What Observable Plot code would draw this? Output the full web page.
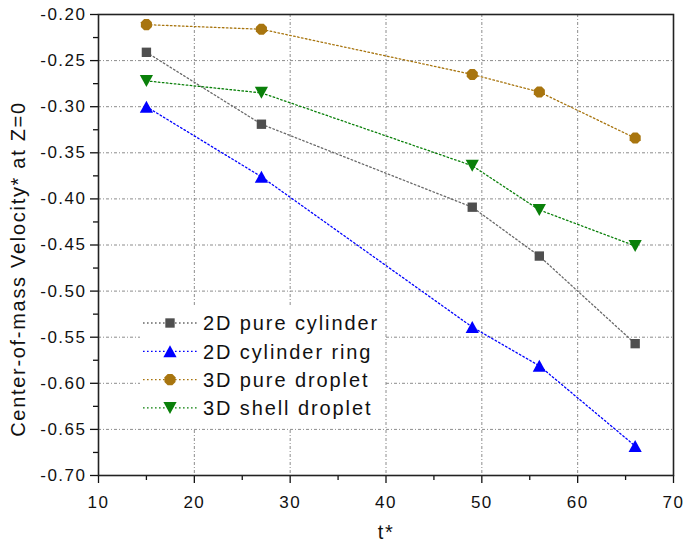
<!DOCTYPE html>
<html>
<head>
<meta charset="utf-8">
<script src="https://cdn.jsdelivr.net/npm/d3@7"></script>
<script src="https://cdn.jsdelivr.net/npm/@observablehq/plot@0.6"></script>
<style>
  html, body { margin: 0; padding: 0; background: white; }
  #chart { width: 684px; height: 547px; }
</style>
</head>
<body>
<div id="chart"></div>
<script>
// ---- data ----
const tValues = [15, 27, 49, 56, 66];
const pureCylinder = [-0.241, -0.319, -0.409, -0.462, -0.557];
const cylinderRing = [-0.300, -0.376, -0.539, -0.581, -0.668];
const pureDroplet = [-0.211, -0.216, -0.265, -0.284, -0.334];
const shellDroplet = [-0.272, -0.285, -0.364, -0.412, -0.451];
const seriesNames = ["2D pure cylinder", "2D cylinder ring", "3D pure droplet", "3D shell droplet"];
const seriesColors = ["#4f4f4f", "#0000ff", "#a8750f", "#0a800a"];
const lineColors = ["#6a6a6a", "#0000ff", "#a8750f", "#0a800a"];
const xTicks = [10, 20, 30, 40, 50, 60, 70];
const xMinorTicks = [15, 25, 35, 45, 55, 65];
const yTicks = [-0.70, -0.65, -0.60, -0.55, -0.50, -0.45, -0.40, -0.35, -0.30, -0.25, -0.20];
const yMinorTicks = [-0.675, -0.625, -0.575, -0.525, -0.475, -0.425, -0.375, -0.325, -0.275, -0.225];
const xLabel = "t*";
const yLabel = "Center-of-mass Velocity* at Z=0";

// ---- custom symbols ----
const rOf = size => Math.sqrt(size / Math.PI);
const symSquare = { draw(c, size) { const r = rOf(size) * 0.78; c.rect(-r, -r, 2 * r, 2 * r); } };
const symTriUp = { draw(c, size) { const r = rOf(size); const w = r * 1.1, h = r * 1.0;
  c.moveTo(0, -h); c.lineTo(w, h); c.lineTo(-w, h); c.closePath(); } };
const symTriDown = { draw(c, size) { const r = rOf(size); const w = r * 1.1, h = r * 1.0;
  c.moveTo(0, h); c.lineTo(w, -h); c.lineTo(-w, -h); c.closePath(); } };
const symOct = { draw(c, size) { const r = rOf(size);
  for (let i = 0; i < 8; i++) { const a = Math.PI / 8 + i * Math.PI / 4;
    const x = r * Math.cos(a), y = r * Math.sin(a); if (i === 0) c.moveTo(x, y); else c.lineTo(x, y); }
  c.closePath(); } };
const seriesSymbols = [symSquare, symTriUp, symOct, symTriDown];
const seriesValues = [pureCylinder, cylinderRing, pureDroplet, shellDroplet];

const rows = [];
seriesValues.forEach((vals, si) => vals.forEach((v, i) => rows.push({ series: seriesNames[si], si, t: tValues[i], v })));

const fontFamily = "'Liberation Sans', Arial, sans-serif";
const gridStyle = { stroke: "#8c8c8c", strokeOpacity: 1, strokeWidth: 1, strokeDasharray: "3,2,1,2" };

const marks = [
  Plot.gridX(xTicks.slice(1, -1), gridStyle),
  Plot.gridY(yTicks.slice(1, -1), gridStyle),
  Plot.axisX(xMinorTicks, { tickSize: 5, text: null, label: null, stroke: "#111", strokeWidth: 1.3 }),
  Plot.axisX(xTicks, { tickSize: 8, tickPadding: 12, fontSize: 17, label: null, tickFormat: d => String(d), stroke: "#111", strokeWidth: 1.3, fill: "#111" }),
  Plot.axisY(yMinorTicks, { tickSize: 5, text: null, label: null, stroke: "#111", strokeWidth: 1.3 }),
  Plot.axisY(yTicks, { tickSize: 8, tickPadding: 4, fontSize: 17, label: null, tickFormat: d => d.toFixed(2), stroke: "#111", strokeWidth: 1.3, fill: "#111" }),
  Plot.frame({ stroke: "#222", strokeWidth: 1.6 }),
];
seriesNames.forEach((name, si) => {
  const data = rows.filter(d => d.si === si);
  marks.push(Plot.line(data, { x: "t", y: "v", stroke: lineColors[si], strokeWidth: 1.3, strokeDasharray: "1.6,2.4" }));
  marks.push(Plot.dot(data, { x: "t", y: "v", symbol: seriesSymbols[si], r: 6, fill: seriesColors[si], stroke: "none" }));
});
marks.push(Plot.text([yLabel], { frameAnchor: "left", textAnchor: "middle", rotate: -90, dx: -80, dy: 24, fontSize: 20, fill: "#111", text: d => d }));
marks.push(Plot.text([xLabel], { frameAnchor: "bottom", textAnchor: "middle", dy: 63, fontSize: 20, fill: "#111", text: d => d }));

const plot = Plot.plot({
  width: 684, height: 547,
  marginLeft: 98, marginRight: 11, marginTop: 14, marginBottom: 72,
  x: { domain: [10, 70] },
  y: { domain: [-0.70, -0.20] },
  style: { fontFamily, background: "white", color: "#111", overflow: "visible" },
  marks
});
document.getElementById("chart").appendChild(plot);

const svg = d3.select(plot);
svg.selectAll("[aria-label='y-axis tick label'] text").style("letter-spacing", "1.5px");
svg.selectAll("[aria-label='x-axis tick label'] text").style("letter-spacing", "1.5px");
svg.selectAll("[aria-label='text'] text").style("letter-spacing", "1.7px");

// ---- legend (inside plot area, lower left) ----
const lg = svg.append("g").attr("font-family", fontFamily).attr("text-anchor", "start");
const lx = 140, ly = 306, lw = 244, lh = 122, rowH = 28.3;
lg.append("rect").attr("x", lx).attr("y", ly).attr("width", lw).attr("height", lh).attr("fill", "white");
seriesNames.forEach((name, i) => {
  const cy = ly + 17 + i * rowH;
  lg.append("line").attr("x1", lx + 3).attr("x2", lx + 57).attr("y1", cy).attr("y2", cy)
    .attr("stroke", lineColors[i]).attr("stroke-width", 1.3).attr("stroke-dasharray", "1.6,2.4");
  lg.append("path").attr("transform", `translate(${lx + 30},${cy})`)
    .attr("d", d3.symbol().type(seriesSymbols[i]).size(Math.PI * 36)()).attr("fill", seriesColors[i]);
  lg.append("text").attr("x", lx + 63).attr("y", cy).attr("dy", "0.36em").attr("font-size", 20)
    .attr("text-anchor", "start").style("letter-spacing", "1.9px").attr("fill", "#111").text(name);
});
</script>
</body>
</html>
